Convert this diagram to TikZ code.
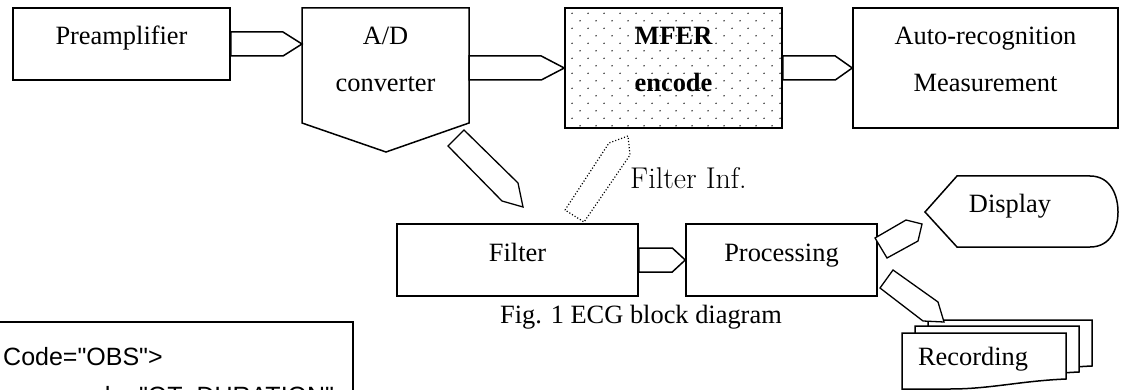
\documentclass[tikz,border=0pt]{standalone}
\usepackage{fontspec}
\newfontfamily\tnr{Liberation Serif}
\newfontfamily\arl{Liberation Sans}
\usetikzlibrary{calc}

\begin{document}
\begin{tikzpicture}[x=1pt,y=-1pt,
  box/.style={draw, line width=1.5pt, inner sep=0pt},
  blk/.style={draw, line width=1.5pt, fill=white, line join=miter},
  pencil/.style={draw, line width=1.3pt, fill=white, line join=miter},
  dotarrow/.style={draw, line width=1.2pt, dash pattern=on 1.1pt off 2pt, fill=white},
  txt/.style={font=\tnr\fontsize{26.4}{30}\selectfont, inner sep=0pt, anchor=base},
  btxt/.style={txt, font=\tnr\bfseries\fontsize{26.4}{30}\selectfont},
  lmtxt/.style={font=\fontsize{30}{34}\selectfont, inner sep=0pt, anchor=base west},
  codetxt/.style={font=\arl\fontsize{25}{29}\selectfont, inner sep=0pt, anchor=base west},
  dotc/.style={fill=black!85}]

\useasboundingbox (0,0) rectangle (1126,390);
\clip (0,0) rectangle (1126,390);

% ---- top row --------------------------------------------------------
\node[box, minimum width=217pt, minimum height=72pt] (pre) at (121.5,44) {};
\node[txt] (pret) at (121.5,45) {Preamplifier};

% A/D converter: pentagon pointing down
\coordinate (ad-tl) at (302,8);
\coordinate (ad-tr) at (469,8);
\coordinate (ad-br) at (469,123);
\coordinate (ad-b)  at (386,152);
\coordinate (ad-bl) at (302,123);
\draw[line width=1.5pt, line join=miter] (ad-tl) -- (ad-tr) -- (ad-br) -- (ad-b) -- (ad-bl) -- cycle;
\coordinate (adin)  at (302,44);
\coordinate (adout) at (469,68);
\node[txt] (adt1) at (385.5,45) {A/D};
\node[txt] (adt2) at (385.5,92) {converter};

% MFER encoder with dotted fill
\node[box, minimum width=217pt, minimum height=120pt] (mfer) at (673.5,68) {};
\begin{scope}
  \clip (mfer.north west) rectangle (mfer.south east);
  \foreach \r in {0,...,15}{
    \pgfmathsetmacro{\yy}{13.3+7.5*\r}
    \pgfmathsetmacro{\xo}{mod(\r,2)*8}
    \foreach \c in {0,...,13}{
      \fill[dotc] (572+\xo+16*\c,\yy) circle[radius=0.8];
    }
  }
\end{scope}
\node[box, minimum width=217pt, minimum height=120pt] at (mfer) {};
\node[btxt] (mfert1) at (673.5,45) {MFER};
\node[btxt] (mfert2) at (673.5,92) {encode};

\node[box, minimum width=265pt, minimum height=120pt] (auto) at (985.5,68) {};
\node[txt] (autot1) at (985.5,45) {Auto-recognition};
\node[txt] (autot2) at (985.5,92) {Measurement};

% block arrows of the top row
\draw[blk] ($(pre.east)+(0,-12)$) -- ($(adin)+(-19,-12)$) -- (adin)
  -- ($(adin)+(-19,12)$) -- ($(pre.east)+(0,12)$) -- cycle;
\draw[blk] ($(adout)+(0,-12)$) -- ($(mfer.west)+(-23,-12)$) -- (mfer.west)
  -- ($(mfer.west)+(-23,12)$) -- ($(adout)+(0,12)$) -- cycle;
\draw[blk] ($(mfer.east)+(0,-12)$) -- ($(auto.west)+(-17,-12)$) -- (auto.west)
  -- ($(auto.west)+(-17,12)$) -- ($(mfer.east)+(0,12)$) -- cycle;

% ---- middle row -----------------------------------------------------
\node[box, minimum width=241pt, minimum height=72pt] (filt) at (517.5,260) {};
\node[txt] (filtt) at (517.5,261) {Filter};
\node[box, minimum width=191pt, minimum height=72pt] (proc) at (781.5,260) {};
\node[txt] (proct) at (781.5,261) {Processing};

\draw[blk] ($(filt.east)+(0,-12)$) -- ($(proc.west)+(-13,-12)$) -- (proc.west)
  -- ($(proc.west)+(-13,12)$) -- ($(filt.east)+(0,12)$) -- cycle;

% A/D output down to the filter
\draw[pencil] (448,146) -- (464,130) -- (518,183) -- (523,207) -- (502,201) -- cycle;
% filter information back to the encoder
\draw[dotarrow] (565,210) -- (609,143) -- (628,136) -- (630,155) -- (584,222) -- cycle;
\node[lmtxt] (finf) at (630,189) {Filter Inf.};

\node[txt, anchor=base west] (cap) at (500,323) {Fig. 1 ECG block diagram};

% ---- display --------------------------------------------------------
\draw[line width=1.5pt, line join=miter] (925,212) -- (957,176) -- (1090,176)
  .. controls (1111,176) and (1118,196) .. (1118,212)
  .. controls (1118,228) and (1111,247) .. (1090,247) -- (957,247) -- cycle;
\node[txt] (dispt) at (1010,212) {Display};
\draw[pencil] (875,238) -- (906,220) -- (922,224) -- (918,241) -- (887,258) -- cycle;

% ---- recording: stack of sheets -------------------------------------
\foreach \dx/\dy in {26/-13, 13/-7, 0/0}{
  \draw[line width=1.5pt, fill=white, line join=miter, shift={(\dx,\dy)}]
    (902,333) -- (1066,333) -- (1066,379)
    .. controls (1020,381) and (990,389) .. (950,389) -- (902,389) -- cycle;
}
\node[txt] (rect) at (973,365) {Recording};
\draw[pencil] (880,288) -- (893,270) -- (938,302) -- (944,322) -- (923,321) -- cycle;

% ---- code listing ---------------------------------------------------
\draw[line width=1.5pt] (-10,322) rectangle (353,450);
\node[codetxt] (code1) at (3,365) {Code="OBS">};
\node[codetxt] (code2) at (70,404) {code="QT\_DURATION"};

\end{tikzpicture}
\end{document}
